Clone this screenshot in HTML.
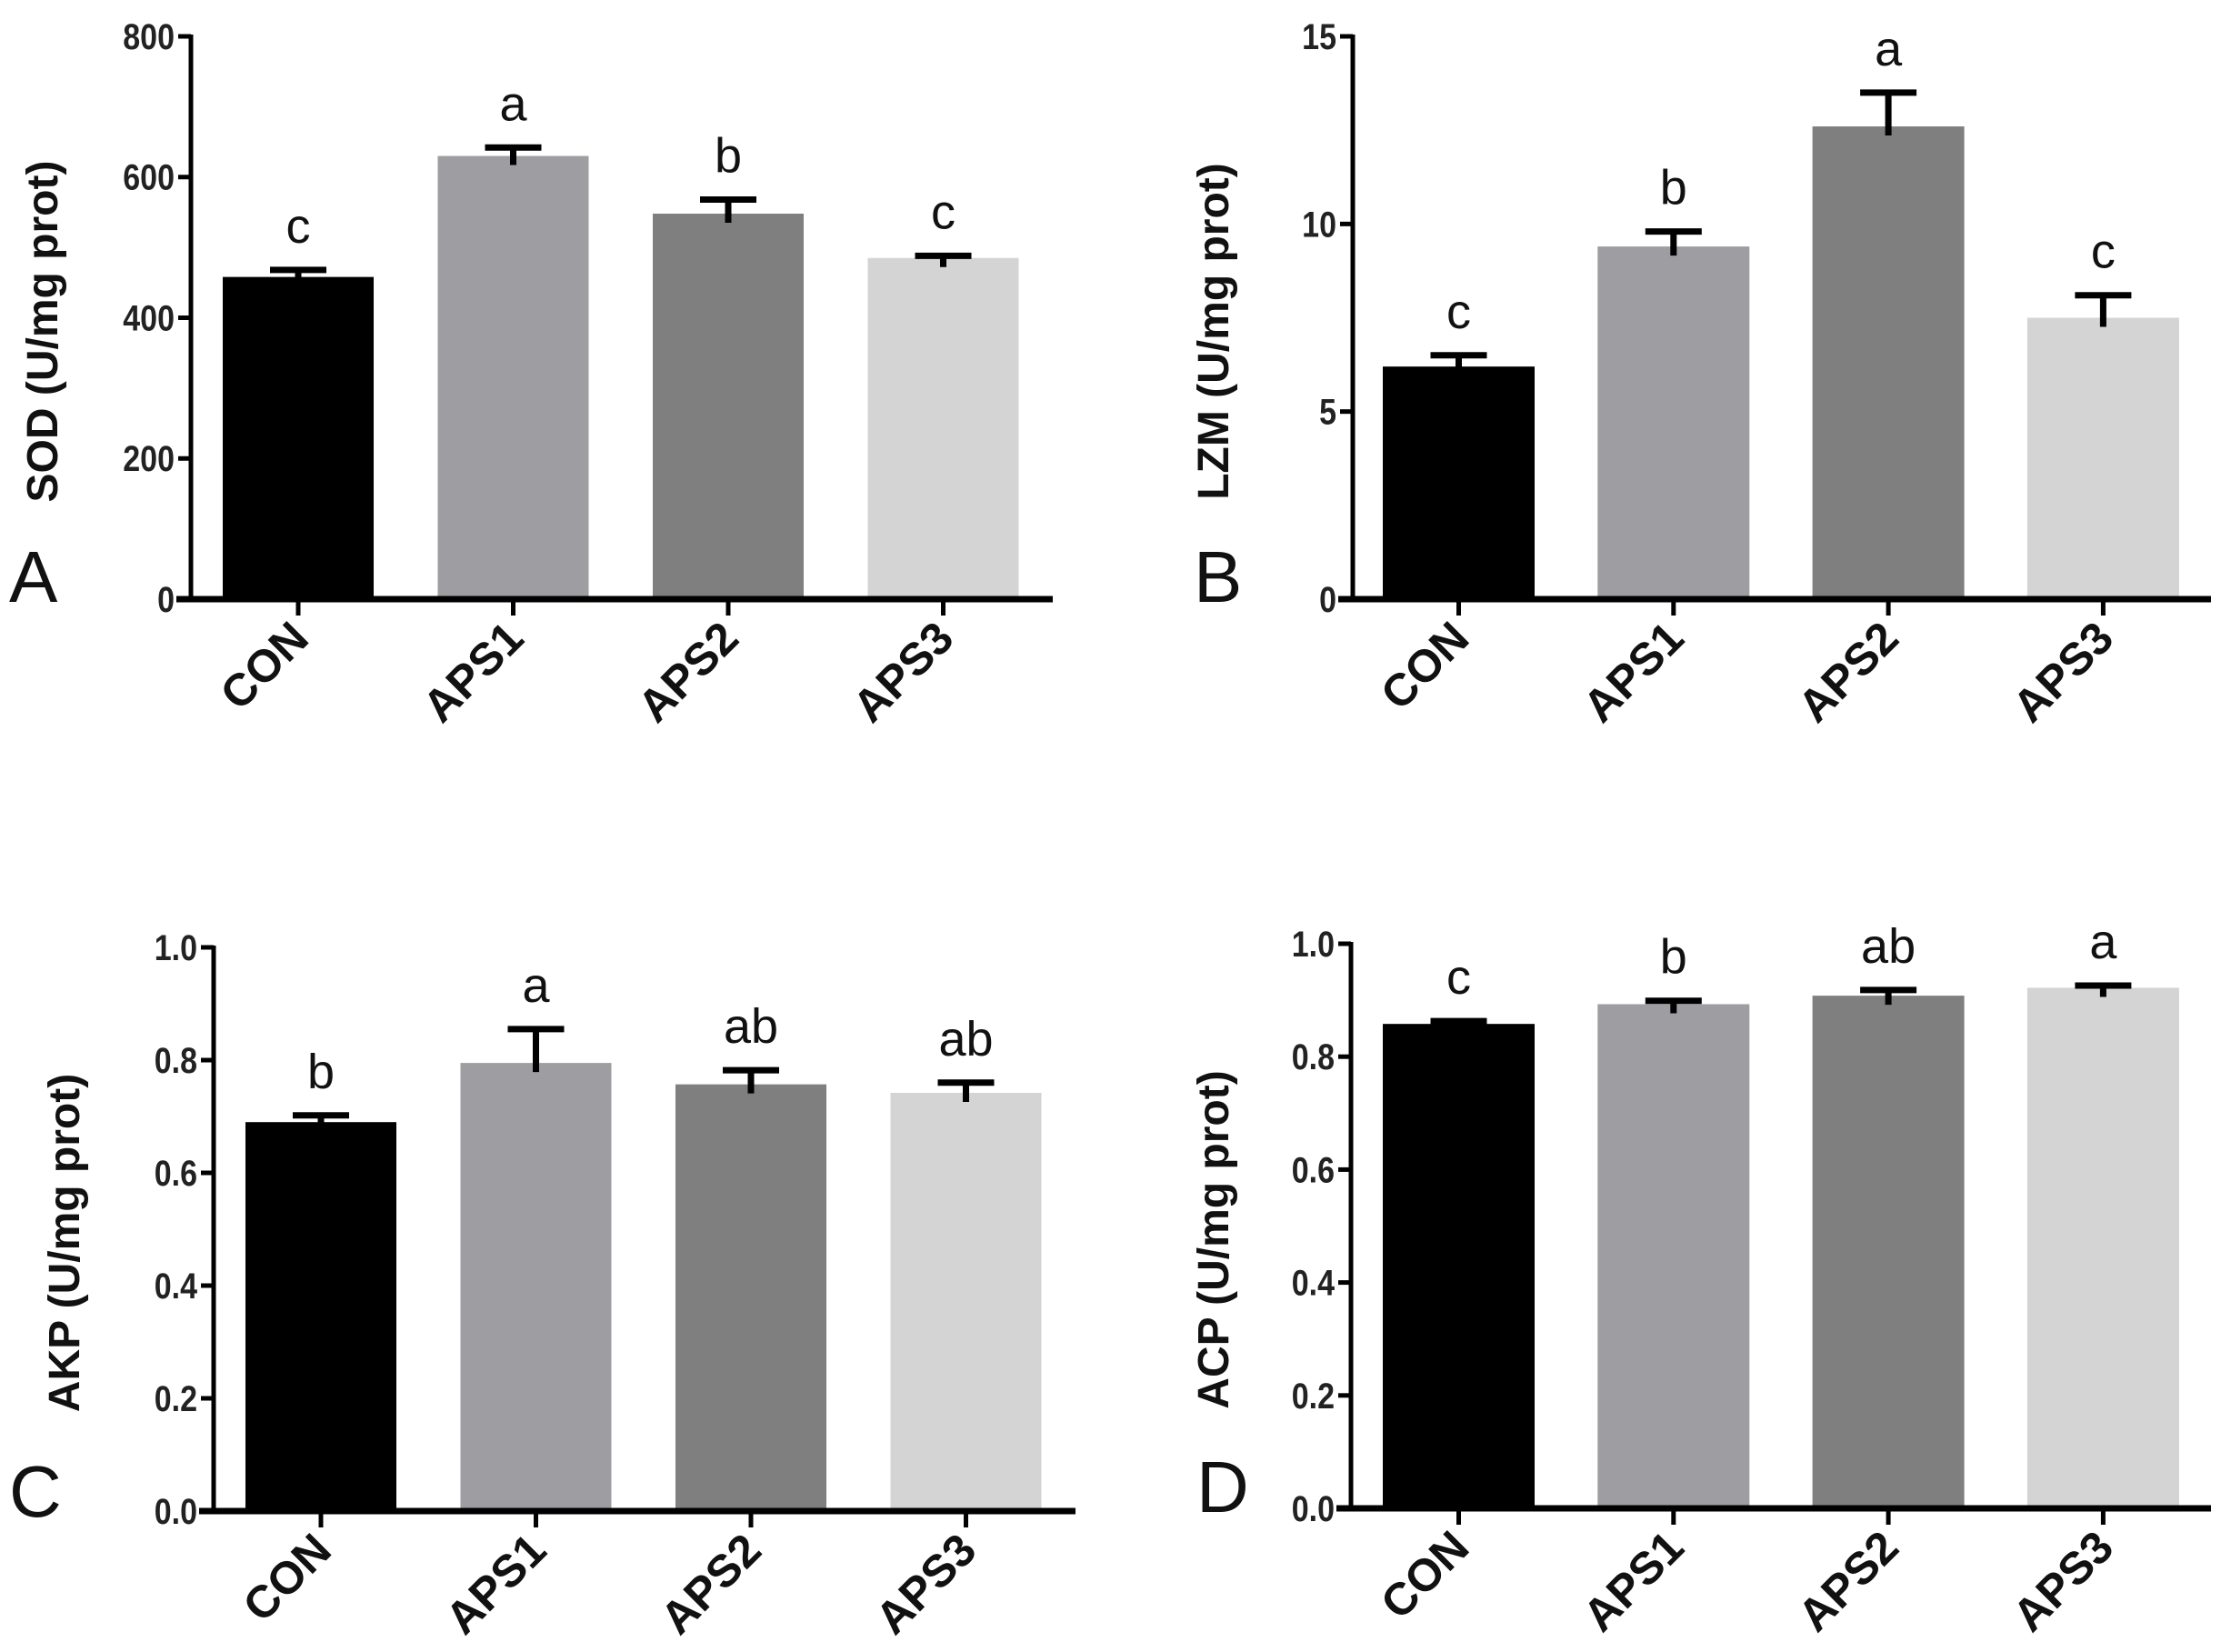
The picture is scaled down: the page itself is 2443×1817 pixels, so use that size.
<!DOCTYPE html>
<html><head><meta charset="utf-8"><style>
html,body{margin:0;padding:0;background:#fff;}
svg{display:block;}
</style></head>
<body>
<svg id="fig" width="2443" height="1817" viewBox="0 0 2443 1817" xmlns="http://www.w3.org/2000/svg"></svg>
<script>
const categories = ["CON","APS1","APS2","APS3"];
const sodValues = [458, 630, 548, 485];
const sodErrors = [10, 12, 20, 3];
const sodLetters = ["c","a","b","c"];
const sodTicks = [0,200,400,600,800];
const lzmValues = [6.2, 9.4, 12.6, 7.5];
const lzmErrors = [0.3, 0.4, 0.9, 0.6];
const lzmLetters = ["c","b","a","c"];
const lzmTicks = [0,5,10,15];
const akpValues = [0.69, 0.795, 0.757, 0.742];
const akpErrors = [0.012, 0.06, 0.025, 0.018];
const akpLetters = ["b","a","ab","ab"];
const akpTicks = [0.0,0.2,0.4,0.6,0.8,1.0];
const acpValues = [0.858, 0.893, 0.908, 0.922];
const acpErrors = [0.005, 0.006, 0.01, 0.004];
const acpLetters = ["c","b","ab","a"];
const acpTicks = [0.0,0.2,0.4,0.6,0.8,1.0];

const colors = ["#000000","#9e9ea2","#7f7f7f","#d4d4d4"];
const NS = "http://www.w3.org/2000/svg";
const svg = document.getElementById("fig");
function mk(tag, attrs, parent){
  const e = document.createElementNS(NS, tag);
  for (const k in attrs) e.setAttribute(k, attrs[k]);
  (parent||svg).appendChild(e);
  return e;
}
const panels = [
  {id:"sod", label:"A", title:"SOD (U/mg prot)", vals:sodValues, errs:sodErrors, lets:sodLetters, ticks:sodTicks, dec:0,
   ax:210, y0:659, yTop:40, xEnd:1158, bar0:245, step:236.5, bw:166, titleX:46, lx:10, ly:662},
  {id:"lzm", label:"B", title:"LZM (U/mg prot)", vals:lzmValues, errs:lzmErrors, lets:lzmLetters, ticks:lzmTicks, dec:0,
   ax:1488, y0:659, yTop:40, xEnd:2432, bar0:1521, step:236.3, bw:167, titleX:1334, lx:1313, ly:662},
  {id:"akp", label:"C", title:"AKP (U/mg prot)", vals:akpValues, errs:akpErrors, lets:akpLetters, ticks:akpTicks, dec:1,
   ax:235, y0:1662, yTop:1042, xEnd:1183, bar0:270, step:236.5, bw:166, titleX:70, lx:10, ly:1668},
  {id:"acp", label:"D", title:"ACP (U/mg prot)", vals:acpValues, errs:acpErrors, lets:acpLetters, ticks:acpTicks, dec:1,
   ax:1486, y0:1659, yTop:1038, xEnd:2432, bar0:1521, step:236.3, bw:167, titleX:1334, lx:1316, ly:1663}
];
panels.forEach(p => {
  const g = mk("g", {});
  
  
  const tmax = p.ticks[p.ticks.length-1];
  const yS = v => p.y0 - (v / tmax) * (p.y0 - p.yTop);
  const xC = i => p.bar0 + i * p.step + p.bw / 2;
  p.vals.forEach((v, i) => {
    const r = mk("rect", {x: p.bar0 + i*p.step, y: yS(v), width: p.bw, height: p.y0 - yS(v), fill: colors[i]}, g);
    
    
    const top = yS(v + p.errs[i]);
    const eb = mk("path", {d: `M${xC(i)} ${yS(v)+10} V${top} M${xC(i)-31} ${top} H${xC(i)+31}`, stroke:"#000", "stroke-width":7, fill:"none"}, g);
    
    
    const t = mk("text", {x: xC(i), y: top - 30, "text-anchor":"middle", "font-family":"Liberation Sans, sans-serif", "font-size":54, fill:"#111"}, g);
    t.textContent = p.lets[i];
    
    
  });
  const axY = mk("line", {x1:p.ax, y1:p.yTop-2, x2:p.ax, y2:p.y0+3, stroke:"#000", "stroke-width":5}, g);
  
  
  const axX = mk("line", {x1:p.ax-16, y1:p.y0, x2:p.xEnd, y2:p.y0, stroke:"#000", "stroke-width":7}, g);
  
  
  p.ticks.forEach(tv => {
    const y = yS(tv);
    mk("line", {x1:p.ax-14, y1:y, x2:p.ax, y2:y, stroke:"#000", "stroke-width":5}, g);
    const t = mk("text", {x:p.ax-18, y:y+14, "text-anchor":"end", "font-family":"Liberation Sans, sans-serif", "font-weight":"bold", "font-size":40, fill:"#222", transform:`translate(${p.ax-18} 0) scale(0.85 1) translate(${-(p.ax-18)} 0)`}, g);
    t.textContent = tv.toFixed(p.dec);
    
    
  });
  categories.forEach((c, i) => {
    const x = xC(i);
    mk("line", {x1:x, y1:p.y0, x2:x, y2:p.y0+18, stroke:"#000", "stroke-width":5}, g);
    const t = mk("text", {x:x+14, y:p.y0+46, "text-anchor":"end", "font-family":"Liberation Sans, sans-serif", "font-weight":"bold", "font-size":50, fill:"#111", transform:`rotate(-45 ${x+14} ${p.y0+46})`}, g);
    t.textContent = c;
    
    
  });
  const midY = (p.y0 + p.yTop) / 2 + 15;
  const tt = mk("text", {x:p.titleX, y:midY, "text-anchor":"middle", "font-family":"Liberation Sans, sans-serif", "font-weight":"bold", "font-size":48, fill:"#111", transform:`rotate(-90 ${p.titleX} ${midY})`, dy:"17"}, g);
  tt.textContent = p.title;
  
  
  const pl = mk("text", {x:p.lx, y:p.ly, "font-family":"Liberation Sans, sans-serif", "font-size":80, fill:"#111"}, g);
  pl.textContent = p.label;
  
  
});
</script>
</body></html>
